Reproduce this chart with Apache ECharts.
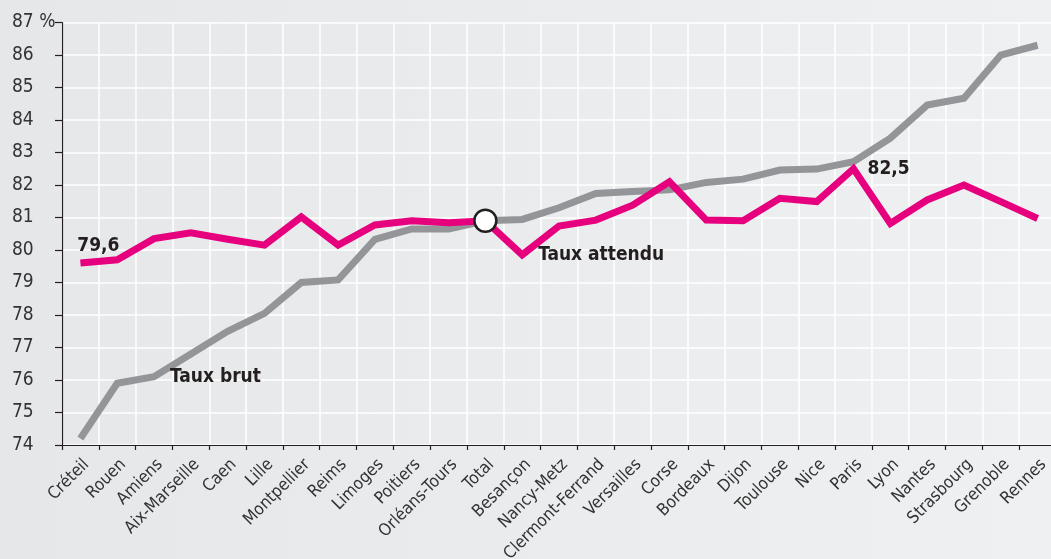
<!DOCTYPE html>
<html>
<head>
<meta charset="utf-8">
<script src="https://cdn.jsdelivr.net/npm/echarts@6/dist/echarts.min.js"></script>
<style>
html,body{margin:0;padding:0;background:#ebecee;}
#chart{width:1051px;height:559px;}
</style>
</head>
<body>
<div id="chart"></div>
<script>
const categories = ['Créteil','Rouen','Amiens','Aix-Marseille','Caen','Lille','Montpellier','Reims','Limoges','Poitiers','Orléans-Tours','Total','Besançon','Nancy-Metz','Clermont-Ferrand','Versailles','Corse','Bordeaux','Dijon','Toulouse','Nice','Paris','Lyon','Nantes','Strasbourg','Grenoble','Rennes'];
const tauxBrut = [74.2,75.9,76.1,76.8,77.5,78.05,79.0,79.08,80.33,80.65,80.65,80.9,80.94,81.3,81.74,81.8,81.85,82.08,82.18,82.46,82.49,82.72,83.44,84.46,84.67,86.0,86.3];
const tauxAttendu = [79.6,79.7,80.35,80.53,80.33,80.15,81.02,80.15,80.77,80.9,80.84,80.9,79.85,80.74,80.92,81.38,82.1,80.92,80.9,81.59,81.49,82.5,80.82,81.54,82.0,81.49,80.97];
const yTicks = ['74','75','76','77','78','79','80','81','82','83','84','85','86','87 %'];
const yMin = 74, yMax = 87;

const FONT = "'Liberation Sans Narrow','DejaVu Sans Condensed','Arial Narrow',sans-serif";
const labelStyle = {fontFamily: FONT, fontWeight: 'bold', fontSize: 19, color: '#231f20'};

const brutData = tauxBrut.map((v, i) => {
  const d = {value: v};
  if (categories[i] === 'Amiens') {
    d.label = Object.assign({show: true, position: 'right', distance: 16, formatter: 'Taux brut'}, labelStyle);
  }
  return d;
});
const attData = tauxAttendu.map((v, i) => {
  const d = {value: v};
  if (i === 0) {
    d.label = Object.assign({show: true, position: 'top', distance: 5, offset: [18, -2], formatter: '79,6'}, labelStyle);
  }
  if (categories[i] === 'Paris') {
    d.label = Object.assign({show: true, position: 'right', distance: 14, formatter: '82,5'}, labelStyle);
  }
  if (categories[i] === 'Besançon') {
    d.label = Object.assign({show: true, position: 'right', distance: 16, formatter: 'Taux attendu'}, labelStyle);
  }
  if (categories[i] === 'Total') {
    d.symbolSize = 22;
    d.itemStyle = {color: '#ffffff', borderColor: '#231f20', borderWidth: 2.5, opacity: 1};
  }
  return d;
});

const chart = echarts.init(document.getElementById('chart'), null, {renderer: 'canvas'});
chart.setOption({
  animation: false,
  backgroundColor: {
    type: 'linear', x: 0, y: 0, x2: 1, y2: 0,
    colorStops: [{offset: 0, color: '#e6e7e9'}, {offset: 1, color: '#eff0f1'}]
  },
  grid: {left: 62, right: -5, top: 22.5, bottom: 114, containLabel: false, outerBoundsMode: 'none'},
  xAxis: {
    type: 'category',
    data: categories,
    boundaryGap: true,
    axisLine: {lineStyle: {color: '#231f20', width: 1.2}},
    axisTick: {show: true, length: 5, lineStyle: {color: '#231f20', width: 1.2}},
    splitLine: {show: true, lineStyle: {color: '#ffffff', width: 1.5}},
    axisLabel: {
      interval: 0, rotate: 45, margin: 11, verticalAlign: 'top',
      fontFamily: FONT, fontSize: 17, color: '#333333'
    }
  },
  yAxis: {
    type: 'value',
    min: yMin, max: yMax, interval: 1,
    axisLine: {show: true, lineStyle: {color: '#231f20', width: 1.2}},
    axisTick: {show: true, length: 7, lineStyle: {color: '#231f20', width: 1.2}},
    splitLine: {show: true, lineStyle: {color: '#ffffff', width: 1.5}},
    axisLabel: {
      align: 'left', margin: 50,
      fontFamily: FONT, fontSize: 19, color: '#333333',
      formatter: (v) => yTicks[Math.round(v - yMin)]
    }
  },
  series: [
    {
      name: 'Taux brut', type: 'line', data: brutData,
      symbol: 'circle', symbolSize: 0, showSymbol: true,
      itemStyle: {color: 'rgba(0,0,0,0)'},
      lineStyle: {color: '#939598', width: 7, join: 'miter'},
      z: 2
    },
    {
      name: 'Taux attendu', type: 'line', data: attData,
      symbol: 'circle', symbolSize: 0, showSymbol: true,
      itemStyle: {color: 'rgba(0,0,0,0)'},
      lineStyle: {color: '#e6007e', width: 7, join: 'miter'},
      z: 3
    }
  ]
});
</script>
</body>
</html>
